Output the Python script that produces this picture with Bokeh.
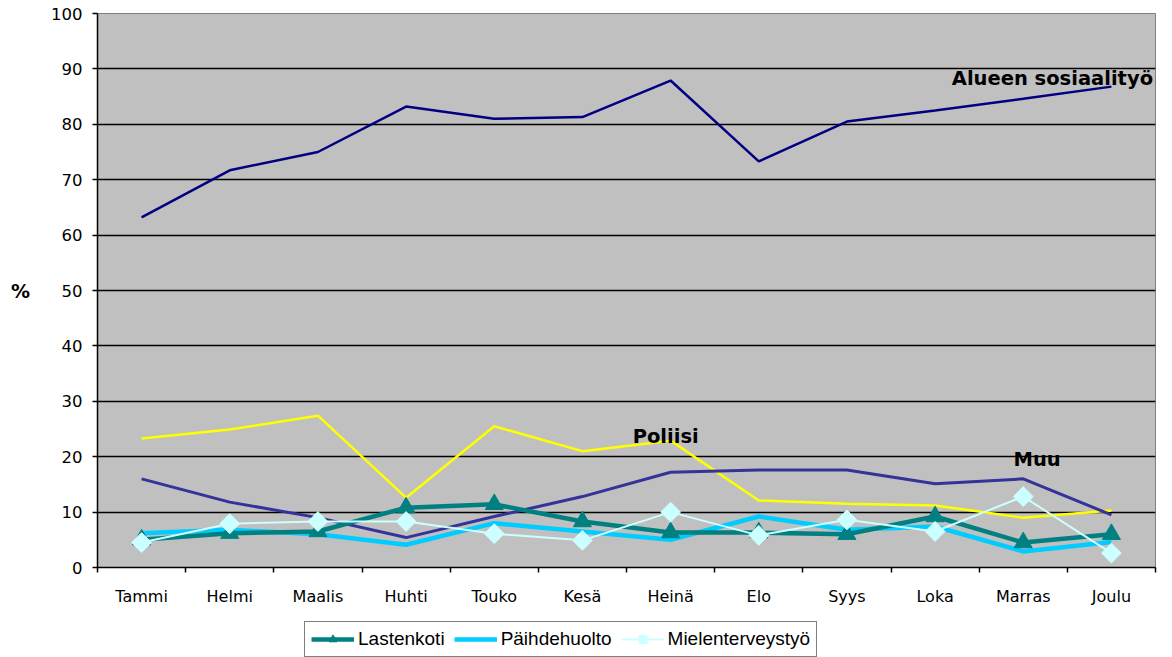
import math
from bokeh.plotting import figure
from bokeh.layouts import column
from bokeh.models import (FixedTicker, Label, Legend, LegendItem, Range1d,
                          CustomJSTickFormatter)
from bokeh.embed import file_html
from bokeh.resources import INLINE

# ---- data ----
months = ["Tammi", "Helmi", "Maalis", "Huhti", "Touko", "Kesä", "Heinä",
          "Elo", "Syys", "Loka", "Marras", "Joulu"]
alueen = [63.2, 71.7, 75.0, 83.2, 81.0, 81.3, 87.9, 73.3, 80.5, 82.5, 84.6, 86.8]
poliisi = [23.3, 24.9, 27.4, 12.6, 25.5, 21.0, 22.9, 12.1, 11.5, 11.2, 9.0, 10.3]
muu = [16.0, 11.8, 9.0, 5.4, 9.2, 12.8, 17.2, 17.6, 17.6, 15.1, 16.0, 9.5]
lastenkoti = [5.0, 6.2, 6.5, 10.8, 11.4, 8.3, 6.3, 6.3, 6.0, 9.2, 4.5, 6.0]
paihdehuolto = [6.2, 6.8, 6.0, 4.1, 8.0, 6.5, 5.0, 9.2, 6.8, 7.4, 2.9, 4.6]
mielenterveys = [4.5, 7.9, 8.3, 8.3, 6.1, 4.9, 10.0, 5.8, 8.6, 6.5, 12.8, 2.6]
y_ticks = list(range(0, 101, 10))

xs = [i + 0.5 for i in range(len(months))]
boundaries = list(range(len(months) + 1))

# styles
C_ALUEEN, C_POLIISI, C_MUU = "#000080", "#ffff00", "#333399"
C_LAST, C_PAIH, C_MIEL = "#008080", "#00ccff", "#ccffff"
TRI = dict(marker="triangle", size=18)
DIA = dict(marker="square", size=14, angle=math.pi / 4)

p = figure(width=1172, height=608, output_backend="svg", toolbar_location=None,
           x_range=Range1d(0, len(months)), y_range=Range1d(0, 100),
           min_border_left=97, min_border_right=17, min_border_top=13,
           min_border_bottom=40)
p.border_fill_color = "white"
p.outline_line_color = "#808080"
p.outline_line_width = 1
p.background_fill_color = "#c0c0c0"

# grid
p.xgrid.visible = False
p.ygrid.ticker = FixedTicker(ticks=y_ticks[1:-1])
p.ygrid.grid_line_color = "black"
p.ygrid.grid_line_width = 1.5

# y axis
p.yaxis.ticker = FixedTicker(ticks=y_ticks)
p.yaxis.axis_line_color = "black"
p.yaxis.axis_line_width = 1.5
p.yaxis.major_tick_line_color = "black"
p.yaxis.major_tick_line_width = 1.5
p.yaxis.major_tick_in = 0
p.yaxis.major_tick_out = 5
p.yaxis.minor_tick_line_color = None
p.yaxis.major_label_standoff = 10
p.yaxis.major_label_text_font = "DejaVu Sans"
p.yaxis.major_label_text_font_size = "16.5px"
p.yaxis.major_label_text_color = "black"
p.yaxis.axis_label = "%"
p.yaxis.axis_label_orientation = "horizontal"
p.yaxis.axis_label_text_font = "DejaVu Sans"
p.yaxis.axis_label_text_font_style = "bold"
p.yaxis.axis_label_text_font_size = "19px"
p.yaxis.axis_label_standoff = 18
p.yaxis.axis_label_text_color = "black"

# x axis: labels at category centres, ticks at boundaries
p.xaxis.ticker = FixedTicker(ticks=xs, minor_ticks=boundaries)
p.xaxis.formatter = CustomJSTickFormatter(args=dict(months=months),
                                          code="return months[Math.floor(tick)];")
p.xaxis.axis_line_color = "black"
p.xaxis.axis_line_width = 1.5
p.xaxis.major_tick_in = 0
p.xaxis.major_tick_out = 0
p.xaxis.minor_tick_in = 0
p.xaxis.minor_tick_out = 5
p.xaxis.minor_tick_line_color = "black"
p.xaxis.minor_tick_line_width = 1.5
p.xaxis.major_label_standoff = 14
p.xaxis.major_label_text_font = "DejaVu Sans"
p.xaxis.major_label_text_font_size = "16px"
p.xaxis.major_label_text_color = "black"

# series
p.line(xs, alueen, line_color=C_ALUEEN, line_width=2.5)
p.line(xs, poliisi, line_color=C_POLIISI, line_width=2.5)
p.line(xs, muu, line_color=C_MUU, line_width=3)
p.line(xs, paihdehuolto, line_color=C_PAIH, line_width=4.5)
p.line(xs, lastenkoti, line_color=C_LAST, line_width=4.5)
p.scatter(xs, lastenkoti, fill_color=C_LAST, line_color=C_LAST, **TRI)
p.line(xs, mielenterveys, line_color=C_MIEL, line_width=2)
p.scatter(xs, mielenterveys, fill_color=C_MIEL, line_color=C_MIEL, **DIA)

# inline labels
lab_kw = dict(text_font="DejaVu Sans", text_font_style="bold",
              text_font_size="19.5px", text_color="black", text_baseline="middle")
p.add_layout(Label(x=9.69, y=88.3, text="Alueen sosiaalityö", **lab_kw))
p.add_layout(Label(x=6.07, y=23.7, text="Poliisi", **lab_kw))
p.add_layout(Label(x=10.39, y=19.5, text="Muu", **lab_kw))

# ---- legend strip below the chart ----
lg = figure(width=1172, height=49, output_backend="svg", toolbar_location=None,
            x_range=Range1d(0, 1), y_range=Range1d(0, 1), min_border=0)
lg.axis.visible = False
lg.grid.visible = False
lg.outline_line_color = None
lg.background_fill_color = "white"
lg.border_fill_color = "white"
# legend sample glyphs (kept outside the visible range of this strip)
hx, hy = [-5, -4], [-5, -5]
l1 = lg.line(hx, hy, line_color=C_LAST, line_width=4.5)
l1m = lg.scatter(hx, hy, fill_color=C_LAST, line_color=C_LAST, **TRI)
l2 = lg.line(hx, hy, line_color=C_PAIH, line_width=4.5)
l3 = lg.line(hx, hy, line_color=C_MIEL, line_width=2)
l3m = lg.scatter(hx, hy, fill_color=C_MIEL, line_color=C_MIEL, **DIA)

legend = Legend(items=[
    LegendItem(label="Lastenkoti", renderers=[l1, l1m]),
    LegendItem(label="Päihdehuolto", renderers=[l2]),
    LegendItem(label="Mielenterveystyö", renderers=[l3, l3m]),
], orientation="horizontal", location=(207, 0))
legend.label_text_font = "Liberation Sans"
legend.label_text_font_size = "19px"
legend.label_text_color = "black"
legend.glyph_width = 43
legend.glyph_height = 20
legend.label_standoff = 4
legend.spacing = 9
legend.padding = 6
legend.margin = 0
legend.border_line_color = "black"
legend.border_line_width = 1.5
legend.background_fill_color = "white"
legend.background_fill_alpha = 1
lg.add_layout(legend)

layout = column(p, lg, spacing=0)
open("out.html", "w").write(file_html(layout, INLINE))
